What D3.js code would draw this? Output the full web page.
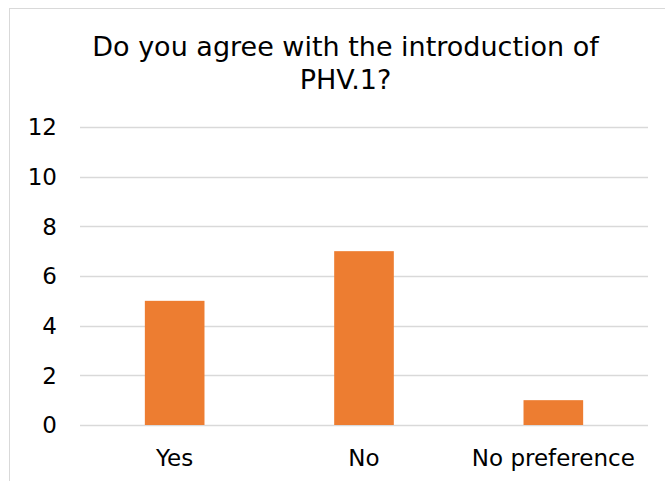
<!DOCTYPE html>
<html>
<head>
<meta charset="utf-8">
<script src="https://cdn.jsdelivr.net/npm/d3@7"></script>
<style>
  body { margin: 0; background: #fff; }
  text { font-family: "DejaVu Sans", Verdana, sans-serif; fill: #000; }
</style>
</head>
<body>
<svg id="chart"></svg>
<script>
// data
const categories = ["Yes", "No", "No preference"];
const values = [5, 7, 1];
const yTicks = [0, 2, 4, 6, 8, 10, 12];
const titleLines = ["Do you agree with the introduction of", "PHV.1?"];

const width = 665, height = 481;
const svg = d3.select("#chart").attr("width", width).attr("height", height);

// chart frame (only left and top edges show)
svg.append("rect")
    .attr("x", 9.5).attr("y", 8.5)
    .attr("width", 700).attr("height", 500)
    .attr("fill", "#fff")
    .attr("stroke", "#d9d9d9")
    .attr("stroke-width", 1);

const margin = { left: 80, right: 17, top: 127, bottom: 56 };

const x = d3.scaleBand()
    .domain(categories)
    .range([margin.left, width - margin.right])
    .paddingInner(0.685)
    .paddingOuter(0.3425);

const y = d3.scaleLinear()
    .domain([0, 12])
    .range([height - margin.bottom, margin.top]);

// gridlines
svg.append("g")
    .selectAll("line")
    .data(yTicks)
    .enter().append("line")
    .attr("x1", margin.left)
    .attr("x2", width - margin.right)
    .attr("y1", d => Math.round(y(d)) + 0.5)
    .attr("y2", d => Math.round(y(d)) + 0.5)
    .attr("stroke", "#d9d9d9")
    .attr("stroke-width", 1.3);

// y tick labels
svg.append("g")
    .selectAll("text")
    .data(yTicks)
    .enter().append("text")
    .attr("x", 57)
    .attr("y", d => y(d))
    .attr("dy", "0.36em")
    .attr("text-anchor", "end")
    .attr("font-size", 23)
    .text(d => d);

// bars
svg.append("g")
    .selectAll("rect")
    .data(values)
    .enter().append("rect")
    .attr("x", (d, i) => x(categories[i]))
    .attr("width", x.bandwidth())
    .attr("y", d => y(d))
    .attr("height", d => y(0) - y(d))
    .attr("fill", "#ed7d31");

// x labels
svg.append("g")
    .selectAll("text")
    .data(categories)
    .enter().append("text")
    .attr("x", d => x(d) + x.bandwidth() / 2)
    .attr("y", 466)
    .attr("text-anchor", "middle")
    .attr("font-size", 23)
    .text(d => d);

// title
svg.append("g")
    .selectAll("text")
    .data(titleLines)
    .enter().append("text")
    .attr("x", 345.5)
    .attr("y", (d, i) => 56 + i * 33)
    .attr("text-anchor", "middle")
    .attr("font-size", 27)
    .text(d => d);
</script>
</body>
</html>
